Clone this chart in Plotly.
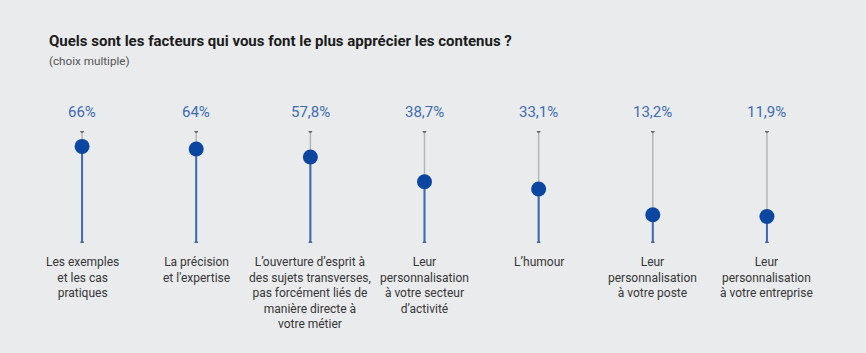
import plotly.graph_objects as go

categories = [
    "Les exemples<br>et les cas<br>pratiques",
    "La précision<br>et l'expertise",
    "L’ouverture d’esprit à<br>des sujets transverses,<br>pas forcément liés de<br>manière directe à<br>votre métier",
    "Leur<br>personnalisation<br>à votre secteur<br>d’activité",
    "L’humour",
    "Leur<br>personnalisation<br>à votre poste",
    "Leur<br>personnalisation<br>à votre entreprise",
]
values = [66, 64, 57.8, 38.7, 33.1, 13.2, 11.9]
value_labels = ["66%", "64%", "57,8%", "38,7%", "33,1%", "13,2%", "11,9%"]

title = "Quels sont les facteurs qui vous font le plus apprécier les contenus ?"
subtitle = "(choix multiple)"

Y_MIN, Y_MAX = -8.6, 77.9
FONT = "Roboto"
BG = "#eaebed"

xs = list(range(len(categories)))

gray_x, gray_y, blue_x, blue_y = [], [], [], []
for i, v in zip(xs, values):
    gray_x += [i, i, None]
    gray_y += [Y_MIN, Y_MAX, None]
    blue_x += [i, i, None]
    blue_y += [Y_MIN, v, None]

fig = go.Figure()
fig.add_trace(go.Scatter(x=gray_x, y=gray_y, mode="lines",
                         line=dict(color="#b4b5b8", width=1.5), hoverinfo="skip"))
fig.add_trace(go.Scatter(x=xs + xs, y=[Y_MIN] * len(xs) + [Y_MAX] * len(xs), mode="markers",
                         marker=dict(color="#6b6b6b", size=4), hoverinfo="skip"))
fig.add_trace(go.Scatter(x=blue_x, y=blue_y, mode="lines",
                         line=dict(color="#3d69b5", width=2), hoverinfo="skip"))
fig.add_trace(go.Scatter(x=xs, y=values, mode="markers",
                         marker=dict(color="#0b47a0", size=15, line=dict(width=0))))

annotations = [
    dict(text="<b>" + title + "</b>", xref="paper", yref="paper", x=0, y=1,
         xanchor="left", yanchor="middle", xshift=-(24.6 - 47), yshift=131.3 - 41.5,
         showarrow=False, font=dict(family=FONT, size=15, color="#1c1c1c")),
    dict(text=subtitle, xref="paper", yref="paper", x=0, y=1,
         xanchor="left", yanchor="middle", xshift=-(24.6 - 47), yshift=131.3 - 61,
         showarrow=False, font=dict(family=FONT, size=11.7, color="#555555")),
]
for i, lab in zip(xs, value_labels):
    annotations.append(dict(text=lab, x=i, y=1, xref="x", yref="paper",
                            xanchor="center", yanchor="middle", yshift=19.5,
                            showarrow=False, font=dict(family=FONT, size=15, color="#3d6bb3")))
for i, cat in zip(xs, categories):
    annotations.append(dict(text=cat, x=i, y=0, xref="x", yref="paper",
                            xanchor="center", yanchor="top", yshift=-10, align="center",
                            showarrow=False, font=dict(family=FONT, size=12, color="#363636")))

fig.update_layout(
    width=866, height=353,
    margin=dict(l=24.6, r=41.9, t=131.3, b=353 - 243.3),
    paper_bgcolor=BG, plot_bgcolor=BG,
    showlegend=False,
    xaxis=dict(range=[-0.5, len(categories) - 0.5], visible=False),
    yaxis=dict(range=[Y_MIN, Y_MAX], visible=False),
    annotations=annotations,
)

fig.write_html("out.html")
